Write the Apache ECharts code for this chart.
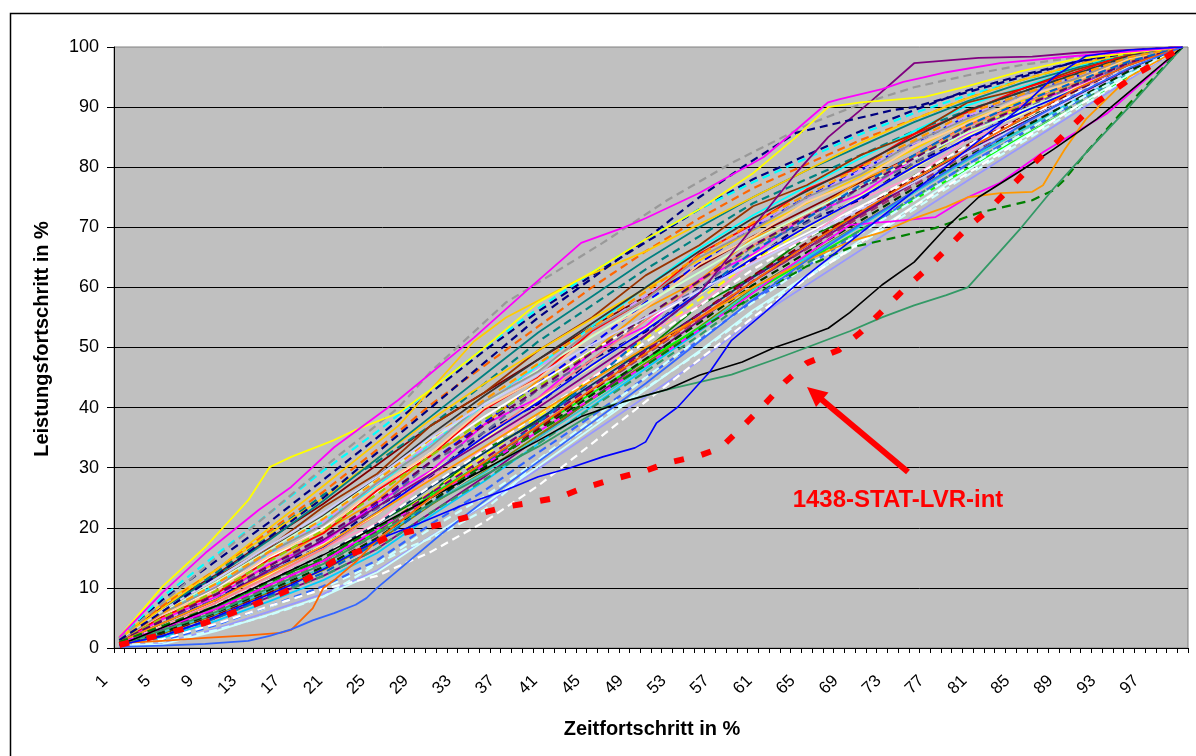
<!DOCTYPE html>
<html><head><meta charset="utf-8">
<script src="https://cdn.jsdelivr.net/npm/echarts@6/dist/echarts.min.js"></script>
<style>html,body{margin:0;padding:0;background:#fff}#c{width:1196px;height:756px}</style>
</head><body><div id="c"></div>
<script>
// ---- categories / ticks ----
const categories = Array.from({length: 100}, (_, i) => String(i + 1));
const yTicks = [0, 10, 20, 30, 40, 50, 60, 70, 80, 90, 100];

// ---- bulk project curves (read at every 5th category) ----
const bulkX = [1,5,10,15,20,25,30,35,40,45,50,55,60,65,70,75,80,85,90,95,100];
const bulkValues = [
 [1.6,8,14.5,21,28,35,42.5,49.5,56,62,67.5,73,78,82,86,89.5,92.8,95.3,97.5,99.4,100],
 [1.5,6.8,12.2,18.2,24,30.5,37,42.5,48,53.5,58.5,63.5,68.5,73,77.5,82,87,90.5,94,97.7,100],
 [1.3,6.5,12.5,19,25.5,31,37,44,51,57,63,68.5,74,78,82,86,89.5,92.5,95.5,98.5,100],
 [1.2,5.6,10.5,15.8,21,27,34,40.5,47,53.5,60,66.5,72,76.8,81.5,86,90.3,93.3,96.2,99,100],
 [1.1,4.8,9.6,13.6,19.4,24.6,32.2,37.2,44.5,49.2,56.5,61.2,68.2,72,77.8,81.6,87.2,90.1,94.3,97.4,100],
 [1,4,8.2,13,18,24,31,37.5,44,50.5,57.5,64,70,75,79.5,84,88.5,92,95,98.3,100],
 [0.9,3.4,6.5,11.4,14.6,20.8,25.8,33,37.6,45,49.6,57,61.8,68.3,72.2,78.6,82.8,87.9,91.7,96.6,100],
 [0.7,2,5,8.5,12,16.5,22.5,28.5,35,41.5,48,54.5,61,66.5,72,77.5,83,87.5,92,96.5,100],
 [0.5,1.2,3.8,6.9,10,14.1,19.9,25.2,31.2,37.2,43.2,49.2,55.9,61.6,67.3,73,78.7,84.1,89.5,94.9,100],
 [1,4.8,8.5,14,17.6,24.2,29.5,37.2,41.6,49.2,53.5,61.3,65.5,72,75.5,81.5,85.6,90.2,93.3,97.6,100],
 [1.2,5.3,10,15,20,26,32.5,38.5,44,49.5,54.5,59.5,64.5,69,73.5,78,83,87.5,91.8,96.2,100],
 [0.8,2.8,6.3,10.3,14.5,19.5,26,32,38.5,45,51.5,58,64.5,69.8,75,80.5,86,90,94,97.8,100],
 [1.4,6,11.8,16.8,23.5,29,37,42.5,49.5,55,62,67,73.5,77,82,85.5,90.8,93,96.2,98.6,100],
 [1,3.4,7.8,11.4,16.6,20.8,28.4,33.1,40.3,45,52.3,57,64.4,68.2,74.6,78.5,84.6,88,92.8,96.5,100],
 [1.3,5.6,10.4,15.7,21,27.3,34.2,40.6,46.6,52.6,58.6,64.6,70.2,74.8,79.4,84,88.6,91.8,95,98.2,100],
 [0.7,2.4,5.6,9.3,13,17.7,23.8,29.4,35.4,41.4,47.4,53.4,59.8,65.2,70.6,76,81.4,86.2,91,95.8,100],
 [1.6,7.4,13,19,25,31.5,38,44,49.5,54.8,59.8,64.5,69.5,74,78.5,83,87.7,91,94.5,97.9,100],
 [1,4.5,8,13.3,16.9,23.5,28.6,36,40.6,48,52.6,60,64.6,71,74.6,80.8,84.7,89.5,92.7,97.2,100],
 [0.6,1.7,4.5,7.8,11.3,15.8,22,27.8,34,40.2,46.5,52.7,59.2,64.8,70.2,75.8,81.3,86.2,91.2,96,100],
 [1.1,5.2,9,14.8,19.1,26.2,32,39.7,45,52.7,58,65.6,70.5,76.3,80.1,85.5,89.2,93,95.8,98.9,100],
 [0.9,3.2,6.7,10.6,14.5,19.3,25.4,31,36.8,42.4,47.9,53.3,59.2,64.5,69.5,74.6,79.8,85,90,95.2,100],
 [1.3,6,11,16.5,22,28.5,35.5,42,48,54,60,66,71.5,76,80.5,85,89.5,92.5,95.5,98.5,100],
 [1,4.1,9,13,18.5,23.2,30.9,35.9,43,47.9,55,59.8,66.9,70.7,76.6,80.6,86.3,89.4,93.7,97.2,100],
 [0.4,0.8,3.2,6.1,9,12.9,18.6,23.8,29.8,35.8,41.8,47.8,54.6,60.4,66.2,72,77.8,83.4,89,94.6,100],
 [1.2,5.6,9.5,15.4,19.6,26.8,32.4,40,44.8,52,56.6,63.8,68.4,74.2,77.8,83.5,87.3,91.5,94.3,98.1,100],
 [0.8,2.8,6.2,10.1,14,18.9,25.1,30.8,36.8,42.8,48.8,54.8,61.1,66.4,71.7,77,82.3,86.9,91.5,96.1,100],
 [1.4,6.5,12,18,24.5,31.5,38.5,45.5,52.5,58.5,64.5,70,75,79.5,83.5,87.5,91,94,96.5,99,100],
 [1,3.6,7.5,12,16.5,22.2,28.8,35.2,41.5,48,54.5,60.8,67,72,77,82,86.8,90.5,94,97.6,100],
 [1,3.9,8.2,12.3,17.2,22.3,29.3,34.7,41.3,46.8,53.2,58.8,65.2,69.8,75.2,79.8,85.2,88.8,93.2,96.8,100],
 [0.6,2,5,8.5,12,16.5,22.5,28,34,40,46,52,58.5,64,69.5,75,80.5,85.5,90.5,95.5,100],
 [1.7,8.5,15.5,22.5,29.5,36,43,50,56.5,62.5,68,73,77.5,81.5,85.5,89,92,94.5,96.8,99,100],
 [0.9,3.4,7,11.2,15.5,20.6,26.8,32.5,38,43.8,49.7,55.6,61.7,67,72.4,77.6,82.8,87.3,91.8,96.3,100],
 [1.1,5,9.5,14.5,19.6,25.6,32,38,43.5,49.3,55,61,66.8,71.8,76.8,81.6,86.4,90.2,93.8,97.5,100],
 [0.7,2.4,5.6,9.3,13.2,18,24.3,30.2,36.4,42.8,49.2,55.6,62,67.4,72.8,78.3,83.7,88.2,92.7,96.9,100],
 [1.3,6,11,16.4,21.8,28,34.6,40.6,46.3,51.8,57.3,62.5,67.8,72.4,76.8,81.4,85.8,89.4,93,96.8,100],
 [0.5,1.2,3.8,7,10.3,14.6,20.6,26.2,32.5,38.6,45,51.2,57.8,63.5,69.2,75,80.5,85.6,90.8,95.8,100],
 [1.5,7,13,19.5,26,33,40.5,47,53.5,60,66,71.5,76.5,80.5,84.5,88,91.5,94.5,97,99.3,100],
 [1,4.1,8.1,12.6,16.9,22.6,28.9,35.2,40.9,47.1,52.9,59.1,64.9,70.1,74.9,80.1,84.9,89.1,92.9,97,100],
 [0.7,2.6,5.8,9.6,13.4,18.1,24,29.2,35,40.8,46.9,53.1,59.6,65.1,70.4,75.8,81.2,86.1,91,95.8,100],
 [1.2,5.8,10.1,16,20.5,27.5,33.5,41,46,53,58,65,69.6,75,78.8,84.2,88.1,92,94.7,98.3,100],
 [0.9,3.4,7.1,11.3,15.5,20.7,27,32.9,38.9,44.9,50.9,56.9,63,68.2,73.3,78.5,83.6,88,92.2,96.5,100],
 [1.1,4.6,8.9,13.7,18.5,24.3,31,37.1,43.1,49.1,55.1,61.1,67,71.8,76.6,81.5,86.3,90,93.7,97.4,100],
 [0.4,0.6,2.8,5.6,8.6,12.6,18.5,24,30.2,36.6,43,49.4,56.2,62,67.8,73.6,79.5,84.8,90,95.4,100],
 [1.3,5.8,10.7,16.1,21.5,27.9,34.8,41.3,47.3,53.3,59.3,65.3,70.8,75.4,80,84.5,89,92.1,95.2,98.3,100],
 [0.8,3,6.5,10.5,14.5,19.5,25.8,31.5,37.5,43.5,49.5,55.5,61.7,67,72.2,77.5,82.7,87.2,91.7,96.2,100],
 [0.6,2,5,8.8,12.5,17.5,24,30.5,37.5,44.5,52,59,66,71.5,77,82,87,90.8,94.2,97.6,100],
 [1.4,6.3,11.5,17,22.5,28.5,35,40.5,45.5,50.5,55,59.5,64,68.5,73,77.5,82.5,87,91.5,96,100],
 [0.8,2.6,5.9,9.7,13.5,18.3,24.4,30.1,36.1,42.1,48.1,54.1,60.4,65.8,71.1,76.5,81.8,86.5,91.2,96,100]
];
const bulkColors = ['#000080','#800000','#008080','#00FFFF','#FF9900','#0000FF','#008000','#800080','#CCFFFF','#FF00FF',
 '#FFFFFF','#FFFF00','#993300','#FF99CC','#CC99FF','#808000','#FFCC00','#000080','#00CCFF','#FF0000',
 '#00FF00','#333333','#666699','#9999FF','#FFCC99','#993366','#008080','#FF8080','#FFFF99','#339966',
 '#00FFFF','#003366','#99CC00','#800000','#CCFFCC','#3366FF','#FF6600','#0000FF','#33CCCC','#969696',
 '#FFFFFF','#660066','#CCFFFF','#FF9900','#800080','#0066CC','#CCCCFF','#003300'];
const bulkDashed = [1,0,1,0,0,1,0,0,1,0, 0,1,0,0,1,0,0,1,0,0, 0,0,1,0,0,1,0,0,0,1, 1,0,1,1,0,1,1,0,0,0, 1,1,0,1,1,1,0,1];

// ---- distinctive curves ----
const whiteDashX = [1,5,10,15,20,25,30,35,40,45,50,55,60,65,70,75,80,85,90,95,100];
const whiteDashY = [0.3,1.5,4,7,9.8,12,16,21,27,34,41,48,55,61.5,67.5,73.5,79,84.5,90,95,100];
const cyanDashX = [1,5,10,15,20,25,28,31,35,37,40,45,50,55,60,65,70,75,80,85,90,95,100];
const cyanDashY = [0.4,1,3,5.5,8.5,14,16.8,19,23,26,31.3,38,45,51.5,57.5,63.5,69,74.5,80,85.5,91,95.5,100];
const royalBlueX = [1,5,9,13,15,17,19,21,23,24,25,26,28,31,35,40,45,50,55,60,65,70,75,80,85,90,95,100];
const royalBlueY = [0.2,0.4,0.7,1.2,2,3.1,4.6,5.8,7.2,8.3,10,11.5,14.5,19,24.5,31,37.5,44,51,58,64.5,70.5,76,81.5,87,92,96.5,100];
const orangeLowX = [1,5,9,13,16,17,19,20,21,23,25,30,35,40,45,50,55,60,65,70,75,80,85,90,95,100];
const orangeLowY = [0.8,1.2,1.7,2.1,2.5,3,6.6,10,11.3,14.3,18,25,31,37,43,49,55,61,67,72.5,78,83,88,93,97,100];
const blueX = [1,5,9,13,17,21,25,29,33,37,40,43,46,49,50,51,53,56,58,61,65,70,75,80,85,88,91,95,100];
const blueY = [0.5,2,4.5,7.5,10.5,14,18,20.8,23.8,26.3,28.5,30,31.8,33.3,34.3,37.4,40.1,46,51.2,55.7,62,69,76,83,90,95,98.5,99.5,100];
const blackX = [1,10,20,30,40,44,48,52,55,59,62,64,67,69,72,75,78,81,85,88,92,96,100];
const blackY = [0.5,7,15.5,25,34.5,38.5,41,43,45.4,47.6,50,51.2,53.2,55.8,60.4,64.2,70,75,79.5,83,88,94,100];
const seaGreenX = [1,10,20,30,40,46,52,58,62,65,69,72,75,78,80,82,85,88,91,95,100];
const seaGreenY = [0.5,6,14,24,33.5,40,43,45.5,48,50,52.7,55,57,58.7,60,64,70,76.5,82.4,90,100];
const greenDashX = [1,10,20,30,40,50,55,60,65,69,73,77,81,86,88,89,91,95,100];
const greenDashY = [1,7,15,25,36,47,53,58.5,63.5,66.6,68.2,69.9,72.4,74.5,76.2,77.9,82.4,90.5,100];
const orangeHighX = [1,10,20,30,40,50,60,65,69,72,75,78,80,83,86,87,88,89,91,95,100];
const orangeHighY = [1,8,17,28,39,50,60,64.5,67.6,69.2,71.5,73.4,75,75.7,75.9,77,80,82.9,88,95,100];
const magentaLowX = [1,10,20,30,40,50,58,63,69,73,77,80,83,87,93,100];
const magentaLowY = [0.8,6.5,14.5,25,36,47,56.5,63,70.4,71,71.7,75,77.4,82.5,89,100];
const magentaTopX = [1,5,9,14,17,21,27,34,39,44,48,50,55,61,64,67,68,72,74,76,78,83,90,100];
const magentaTopY = [1.8,9.2,15.8,23,26.8,33.4,41.3,51.6,59.6,67.4,70,71.5,75.7,81.7,86.2,90.8,91.3,93,94.2,95,95.8,97.3,98.5,100];
const yellowTopX = [1,5,9,13,15,17,21,23,27,30,35,40,45,50,55,60,62,64,67,70,73,76,80,85,90,95,100];
const yellowTopY = [1.8,10.2,16.8,24.6,30.1,31.8,34.6,36.3,39.1,43,50,57.5,62.5,68,73,79,82,85,90,90.8,91.2,91.7,93.5,96,98,99,100];
const purpleTopX = [1,10,20,30,40,50,55,60,64,67,71,75,81,86,90,95,100];
const purpleTopY = [1,8,18,29,40,52,59,70,79,85,91,97.3,98.2,98.4,99,99.5,100];
const greyDashX = [1,10,20,27,30,37,46,52,58,61,65,70,75,80,85,90,95,100];
const greyDashY = [1.5,15,30,40,46,57.5,67.4,74.5,80.7,83.4,87,90.5,93.3,95.3,97,98.3,99.3,100];
const navyDashX = [1,10,20,30,40,50,55,59,64,68,73,75,80,85,90,95,100];
const navyDashY = [1.3,12,25,40,55,68,75,80,85.7,87.4,89.5,90,92.5,95,97.5,99,100];
const goldX = [1,10,20,27,34,37,44,50,55,60,65,70,75,80,85,90,95,100];
const goldY = [1.5,13,27,37,51,55,61.5,66,70.5,75,79.5,84,88,91.5,94.5,97,99,100];
const stat1438X = [1,5,9,13,17,19,21,24,26,29,31,34,37,39,42,44,47,50,52,55,57,59,61,63,65,68,70,72,74,76,78,80,82,84,86,88,90,92,94,96,100];
const stat1438Y = [0.5,2.2,4.2,6.8,9.8,12.1,14.5,16.6,18.5,19.8,20.6,22.1,23.5,24.1,25.1,26.5,28.1,29.5,30.8,32,33.3,36.8,40.4,44.3,47.4,49.6,52.5,56,59.6,62.8,66.4,70,73,76.7,80.4,83.7,87.3,90.8,93.3,95.8,100];
const annotationText = '1438-STAT-LVR-int';

// ---- build ----
const FONT = '"Liberation Sans", Arial, sans-serif';
function pairs(xs, ys) { return xs.map((x, i) => [String(x), ys[i]]); }
function lineSeries(xs, ys, color, dashed, width, dash) {
  return {
    type: 'line', data: pairs(xs, ys), symbol: 'none', silent: true,
    lineStyle: { color: color, width: width, type: dashed ? (dash || [8, 5]) : 'solid', cap: 'butt', join: 'round' },
    z: 2
  };
}
const series = [];
bulkValues.forEach((vals, i) => {
  series.push(lineSeries(bulkX, vals, bulkColors[i], bulkDashed[i], bulkDashed[i] ? 2.2 : 1.8));
});
series.push(lineSeries(whiteDashX, whiteDashY, '#FFFFFF', true, 2.2));
series.push(lineSeries(cyanDashX, cyanDashY, '#CCFFFF', true, 2.2));
series.push(lineSeries(goldX, goldY, '#FFCC00', false, 1.8));
series.push(lineSeries(purpleTopX, purpleTopY, '#800080', false, 1.8));
series.push(lineSeries(greyDashX, greyDashY, '#999999', true, 2.2));
series.push(lineSeries(navyDashX, navyDashY, '#000080', true, 2.2));
series.push(lineSeries(yellowTopX, yellowTopY, '#FFFF00', false, 1.8));
series.push(lineSeries(magentaTopX, magentaTopY, '#FF00FF', false, 1.8));
series.push(lineSeries(magentaLowX, magentaLowY, '#FF00FF', false, 1.8));
series.push(lineSeries(orangeHighX, orangeHighY, '#FF9900', false, 1.8));
series.push(lineSeries(greenDashX, greenDashY, '#008000', true, 2.2, [9, 6]));
series.push(lineSeries(seaGreenX, seaGreenY, '#339966', false, 1.8));
series.push(lineSeries(blackX, blackY, '#000000', false, 1.6));
series.push(lineSeries(orangeLowX, orangeLowY, '#FF6600', false, 1.8));
series.push(lineSeries(royalBlueX, royalBlueY, '#3366FF', false, 1.8));
series.push(lineSeries(blueX, blueY, '#0000FF', false, 1.6));
const red = lineSeries(stat1438X, stat1438Y, '#FF0000', true, 6, [10, 18]);
red.z = 5;
series.push(red);

const chart = echarts.init(document.getElementById('c'), null, { renderer: 'canvas' });
chart.setOption({
  animation: false,
  backgroundColor: '#FFFFFF',
  grid: { left: 114, right: 8, top: 47, bottom: 108, show: true, backgroundColor: '#C0C0C0', borderColor: '#808080', borderWidth: 1 },
  xAxis: {
    type: 'category', data: categories, boundaryGap: true,
    axisLine: { show: true, lineStyle: { color: '#000', width: 1 } },
    axisTick: { show: true, interval: 0, length: 5, lineStyle: { color: '#000' } },
    axisLabel: { interval: 3, rotate: 45, margin: 16, padding: [0, 20, 0, 0], fontSize: 17, color: '#000', fontFamily: FONT },
    splitLine: { show: false }
  },
  yAxis: {
    type: 'value', min: yTicks[0], max: yTicks[yTicks.length - 1], interval: 10,
    axisLine: { show: true, lineStyle: { color: '#000', width: 1 } },
    axisTick: { show: true, inside: false, length: 7, lineStyle: { color: '#000' } },
    axisLabel: { fontSize: 18, color: '#000', margin: 15, fontFamily: FONT },
    splitLine: { show: true, showMaxLine: false, lineStyle: { color: '#000', width: 1 } }
  },
  graphic: [
    { type: 'rect', silent: true, z: 100, shape: { x: 10.5, y: 13.5, width: 1300, height: 900 },
      style: { fill: null, stroke: '#000', lineWidth: 1.5 } },
    { type: 'text', silent: true, z: 100, x: 42, y: 339, rotation: Math.PI / 2,
      style: { text: 'Leistungsfortschritt in %', font: 'bold 20px ' + FONT, fill: '#000', align: 'center', verticalAlign: 'middle' } },
    { type: 'text', silent: true, z: 100, x: 652, y: 729,
      style: { text: 'Zeitfortschritt in %', font: 'bold 20px ' + FONT, fill: '#000', align: 'center', verticalAlign: 'middle' } },
    { type: 'line', silent: true, z: 100, shape: { x1: 908, y1: 472, x2: 821, y2: 399 },
      style: { stroke: '#FF0000', lineWidth: 6 } },
    { type: 'polygon', silent: true, z: 100, shape: { points: [[807, 387], [828.5, 392.5], [816, 407]] },
      style: { fill: '#FF0000' } },
    { type: 'text', silent: true, z: 100, x: 898, y: 500,
      style: { text: annotationText, font: 'bold 24px ' + FONT, fill: '#FF0000', align: 'center', verticalAlign: 'middle' } }
  ],
  series: series
});
</script></body></html>
